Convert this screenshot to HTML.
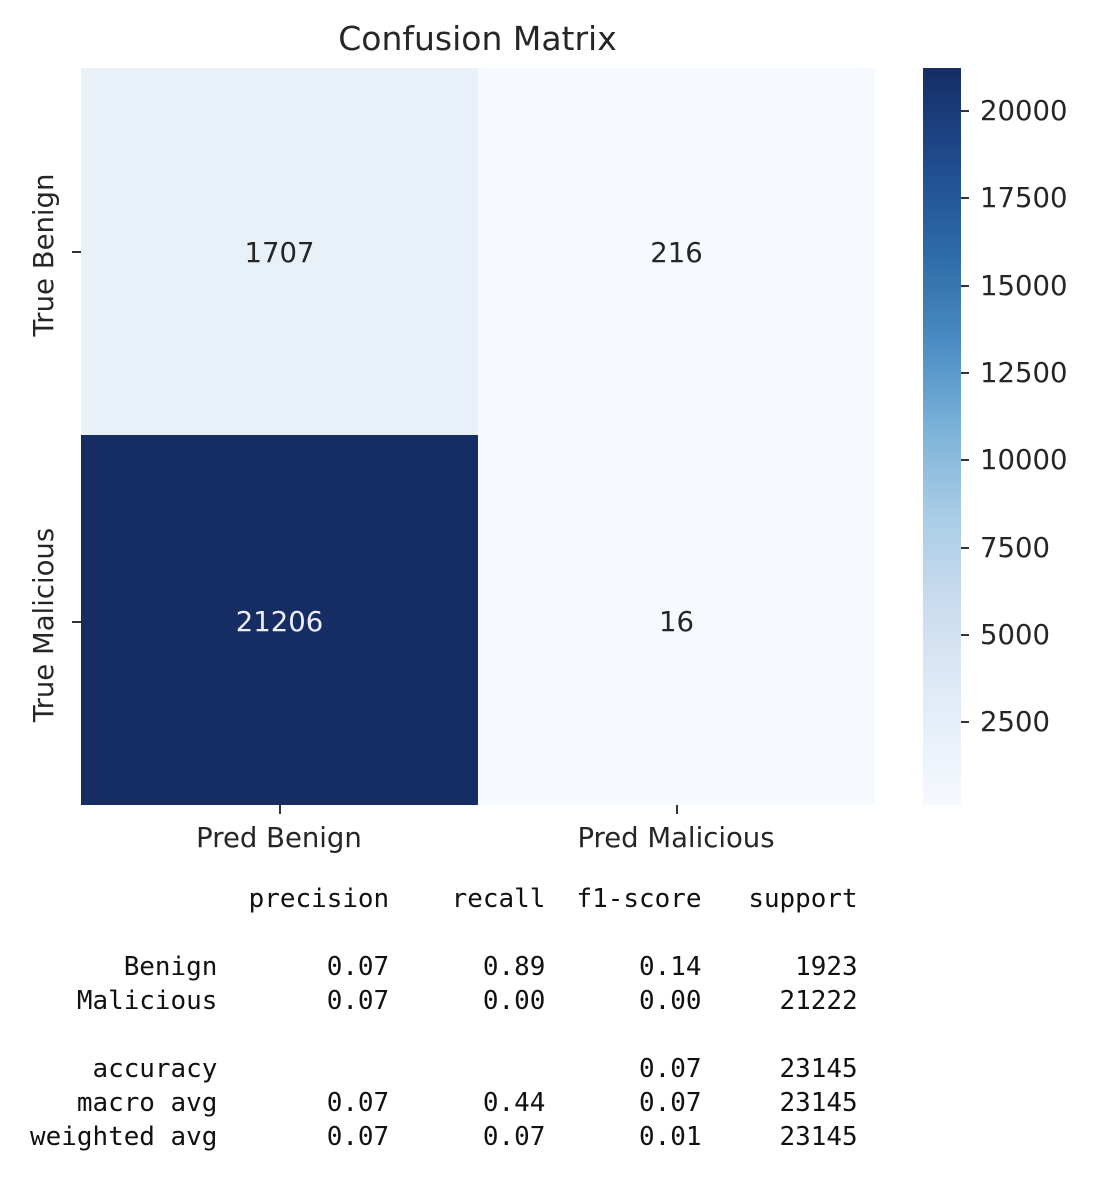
<!DOCTYPE html>
<html><head><style>
body{margin:0;width:1102px;height:1192px;background:#fff;position:relative;overflow:hidden;font-family:"DejaVu Sans","Liberation Sans",sans-serif;color:#262626}
.a{position:absolute}
.c{position:absolute;display:flex;align-items:center;justify-content:center;font-size:27.5px;padding-top:3px;box-sizing:border-box}
.t{position:absolute;font-size:27.5px;white-space:nowrap}
pre{position:absolute;left:30px;top:882px;margin:0;font-family:"DejaVu Sans Mono","Liberation Mono",monospace;font-size:25.95px;line-height:34px;color:#111}
</style></head><body>
<div class="t" style="left:0;width:955px;text-align:center;top:19px;font-size:33px">Confusion Matrix</div>
<div class="c" style="left:81px;top:68px;width:397px;height:367px;background:#e8f0f8">1707</div>
<div class="c" style="left:478px;top:68px;width:397px;height:367px;background:#f6f9fe">216</div>
<div class="c" style="left:81px;top:435px;width:397px;height:370px;background:#162d64;color:#eef">21206</div>
<div class="c" style="left:478px;top:435px;width:397px;height:370px;background:#f6f9fe">16</div>
<div class="a" style="left:72px;top:251px;width:9px;height:2px;background:#333"></div>
<div class="a" style="left:72px;top:621px;width:9px;height:2px;background:#333"></div>
<div class="a" style="left:279px;top:805px;width:2px;height:9px;background:#333"></div>
<div class="a" style="left:676px;top:805px;width:2px;height:9px;background:#333"></div>
<div class="t" style="left:44px;top:255px;transform:translate(-50%,-50%) rotate(-90deg)">True Benign</div>
<div class="t" style="left:44px;top:625px;transform:translate(-50%,-50%) rotate(-90deg)">True Malicious</div>
<div class="t" style="left:279px;top:822px;transform:translateX(-50%)">Pred Benign</div>
<div class="t" style="left:676px;top:822px;transform:translateX(-50%)">Pred Malicious</div>
<div class="a" style="left:923px;top:68px;width:38px;height:737px;background:linear-gradient(to bottom,#162d64 0%,#1f4c8f 13%,#2e6aa8 25%,#4a8bc3 37%,#7bb2d8 49%,#a9cde6 61%,#cbdcef 73%,#e0ebf7 85%,#f6f9fe 100%)"></div>
<div class="a" style="left:961px;top:110px;width:8px;height:2px;background:#333"></div>
<div class="a" style="left:961px;top:197px;width:8px;height:2px;background:#333"></div>
<div class="a" style="left:961px;top:285px;width:8px;height:2px;background:#333"></div>
<div class="a" style="left:961px;top:372px;width:8px;height:2px;background:#333"></div>
<div class="a" style="left:961px;top:459px;width:8px;height:2px;background:#333"></div>
<div class="a" style="left:961px;top:547px;width:8px;height:2px;background:#333"></div>
<div class="a" style="left:961px;top:634px;width:8px;height:2px;background:#333"></div>
<div class="a" style="left:961px;top:721px;width:8px;height:2px;background:#333"></div>
<div class="t" style="left:980px;top:95px">20000</div>
<div class="t" style="left:980px;top:182px">17500</div>
<div class="t" style="left:980px;top:270px">15000</div>
<div class="t" style="left:980px;top:357px">12500</div>
<div class="t" style="left:980px;top:444px">10000</div>
<div class="t" style="left:980px;top:532px">7500</div>
<div class="t" style="left:980px;top:619px">5000</div>
<div class="t" style="left:980px;top:706px">2500</div>
<pre>              precision    recall  f1-score   support

      Benign       0.07      0.89      0.14      1923
   Malicious       0.07      0.00      0.00     21222

    accuracy                           0.07     23145
   macro avg       0.07      0.44      0.07     23145
weighted avg       0.07      0.07      0.01     23145</pre>
</body></html>
